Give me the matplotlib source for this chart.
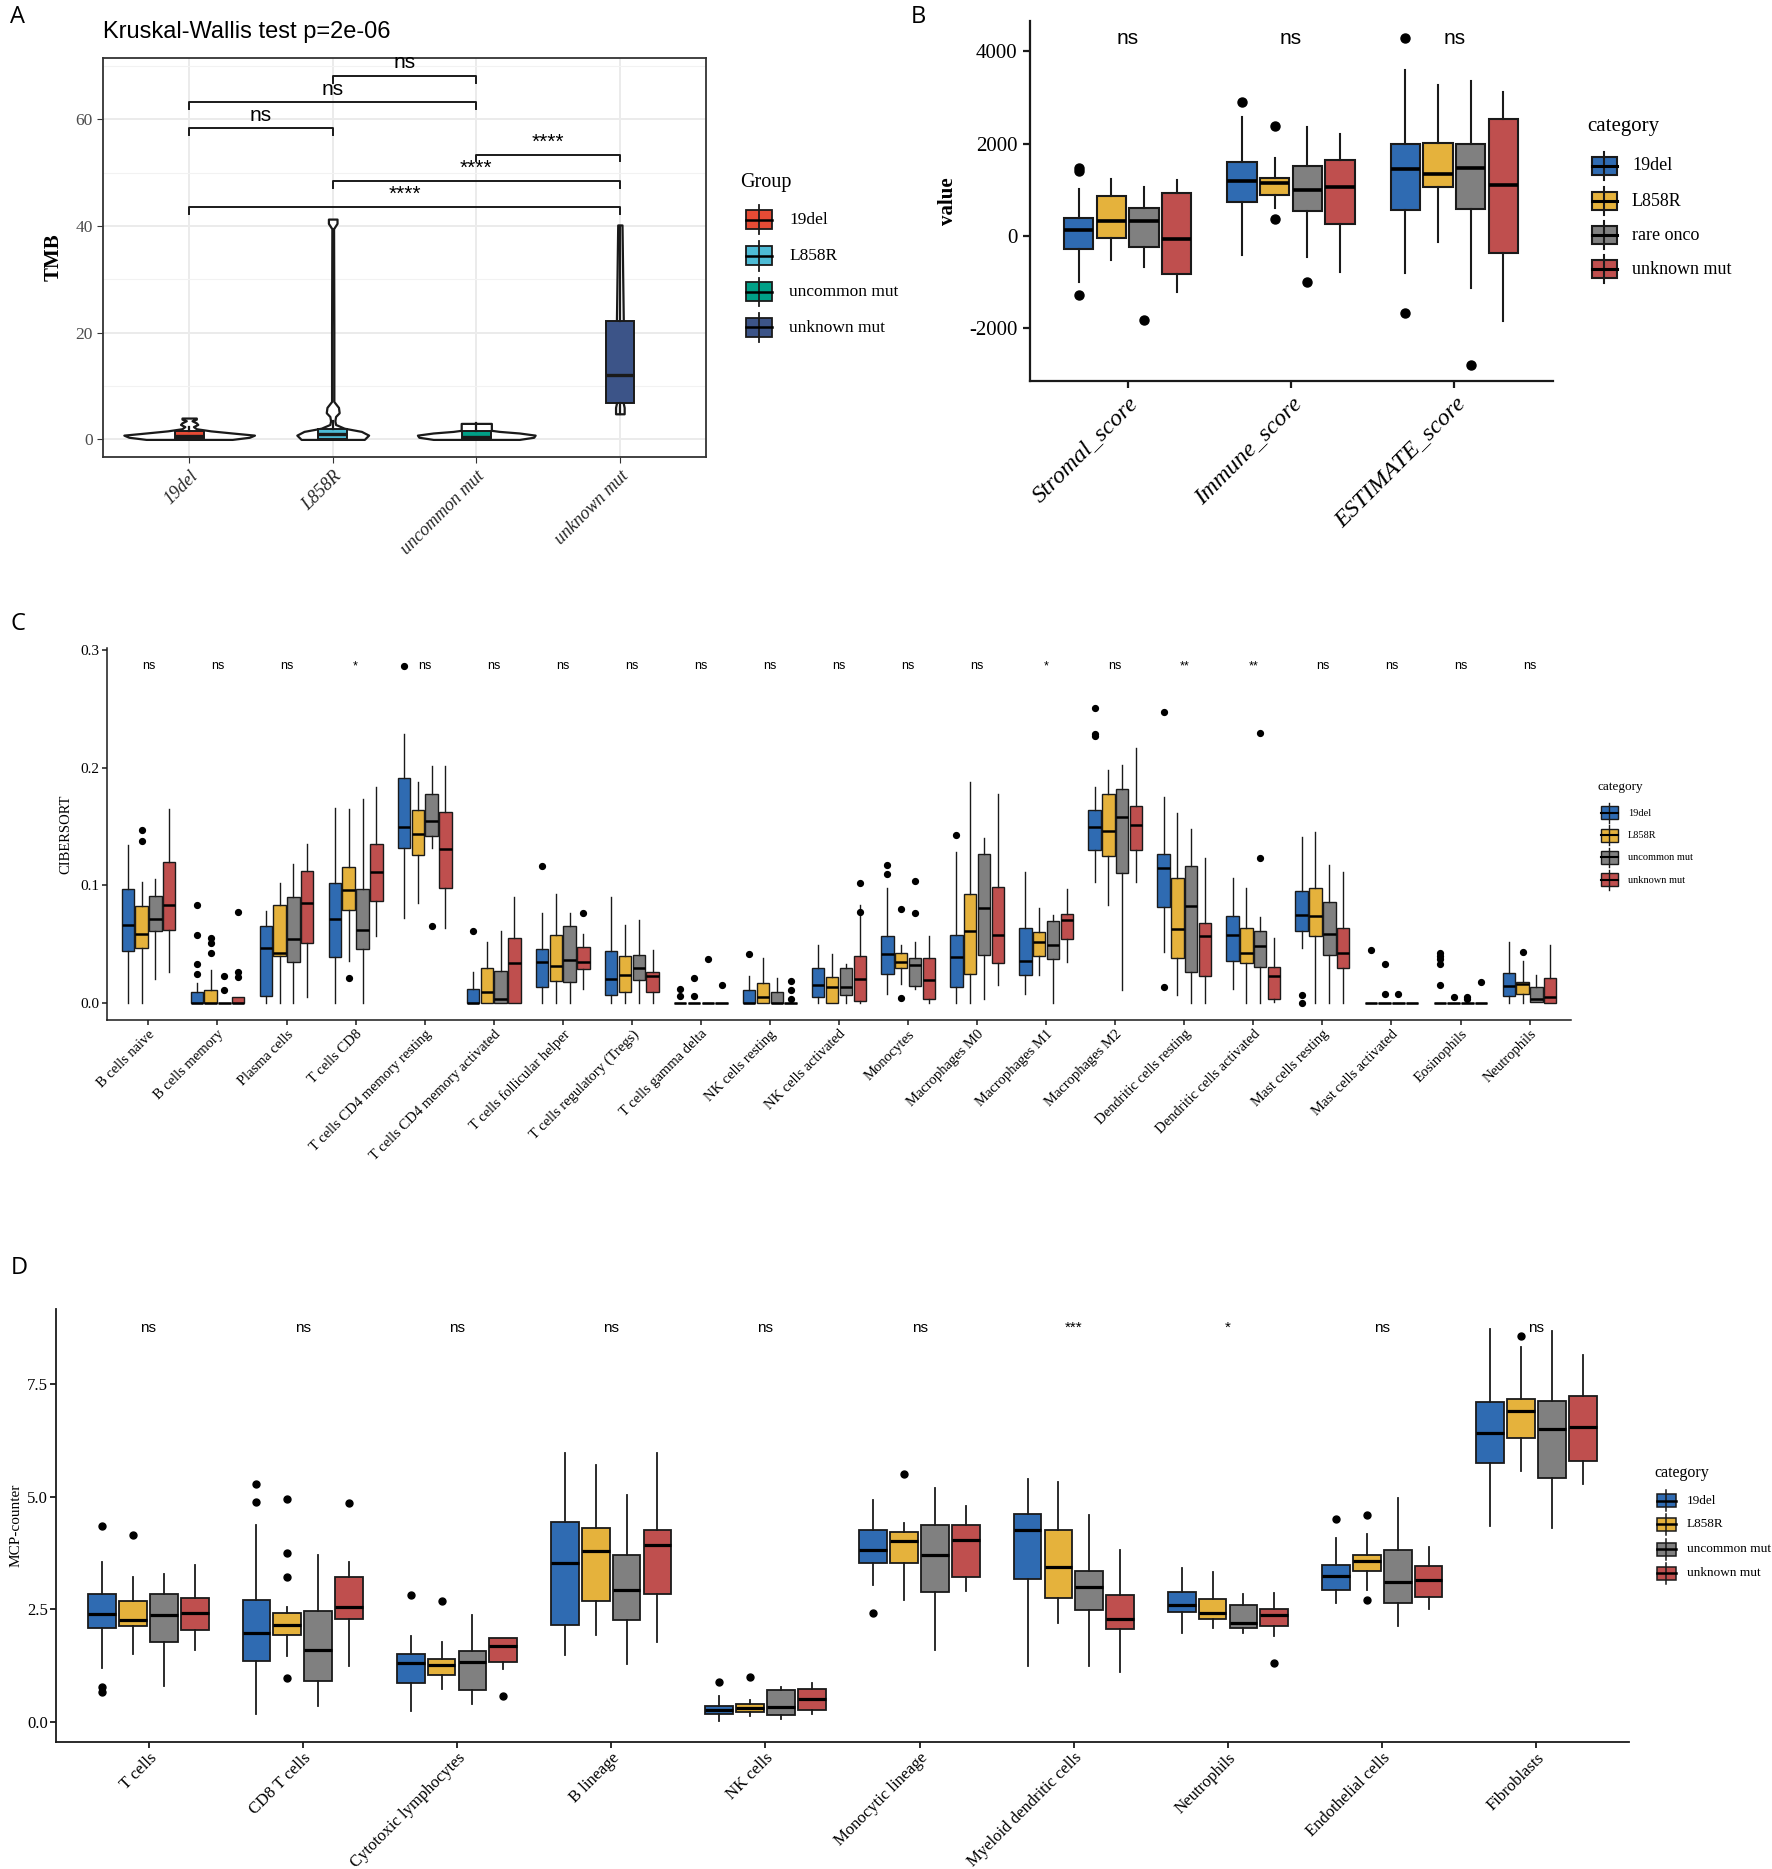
import numpy as np
import matplotlib
matplotlib.use("Agg")
import matplotlib.pyplot as plt
from matplotlib.patches import Rectangle
from matplotlib.lines import Line2D

W, H = 1772, 1869
SERIF = ['Liberation Serif', 'DejaVu Serif']
SANS = ['Liberation Sans', 'DejaVu Sans']
plt.rcParams['font.family'] = SERIF
plt.rcParams['axes.unicode_minus'] = False

# ---------------- data ----------------
# Panel A: TMB by group (violin profiles + box stats)
a_groups = ['19del', 'L858R', 'uncommon mut', 'unknown mut']
a_colors = ['#E64B35', '#4DBBD5', '#00A087', '#3C5488']
vio_19del_y = [0, 0.4, 0.8, 1.2, 1.6, 2.0, 2.4, 2.8, 3.1, 3.5, 3.8, 4.0]
vio_19del_w = [0.3, 0.42, 0.455, 0.3, 0.15, 0.05, 0.03, 0.06, 0.05, 0.02, 0.05, 0.05]
vio_L858R_y = [0, 0.8, 1.5, 2.1, 2.8, 3.5, 4.3, 5.0, 6.0, 7.1, 20, 39.5, 40.5, 41.3]
vio_L858R_w = [0.22, 0.25, 0.2, 0.08, 0.02, 0.015, 0.02, 0.045, 0.04, 0.008, 0.008, 0.006, 0.03, 0.03]
vio_unc_y = [0, 0.4, 0.8, 1.2, 1.5, 1.7, 3.0]
vio_unc_w = [0.3, 0.4, 0.41, 0.3, 0.16, 0.105, 0.105]
vio_unk_y = [4.8, 6.0, 7.0, 12, 20, 30, 40.2]
vio_unk_w = [0.03, 0.03, 0.022, 0.022, 0.025, 0.02, 0.015]
a_box = [(0, 0.15, 0.6, 1.5, 2.3), (0, 0.15, 1.0, 2.0, 3.5),
         (0, 0.1, 0.5, 1.5, 3.0), (4.8, 6.9, 12.06, 22.25, 40.0)]
a_comp = [(1, 2, 58.4, 'ns'), (1, 3, 63.2, 'ns'), (2, 3, 68.2, 'ns'),
          (3, 4, 53.4, '****'), (2, 4, 48.4, '****'), (1, 4, 43.5, '****')]

# Panel B: ESTIMATE scores
b_cats = ['Stromal_score', 'Immune_score', 'ESTIMATE_score']
b_groups = ['19del', 'L858R', 'rare onco', 'unknown mut']
b_sig = ['ns', 'ns', 'ns']
b_19del = [(-1000, -285, 130, 385, 1023), (-408, 731, 1192, 1592, 2577), (-808, 554, 1446, 2000, 3592)]
b_19del_out = [[1400, 1480, -1270], [2900], [4292, -1677]]
b_L858R = [(-515, -38, 323, 862, 1230), (600, 885, 1138, 1254, 1692), (-138, 1062, 1346, 2023, 3269)]
b_L858R_out = [[], [2385, 370], []]
b_rare = [(-677, -230, 323, 615, 1054), (-446, 538, 1000, 1515, 2370), (-1115, 577, 1462, 2000, 3346)]
b_rare_out = [[-1808], [-985], [-2785]]
b_unk = [(-1215, -823, -62, 923, 1208), (-769, 254, 1054, 1654, 2208), (-1846, -362, 1115, 2538, 3115)]
b_unk_out = [[], [], []]

# Panel C: CIBERSORT
c_cats = ['B cells naive', 'B cells memory', 'Plasma cells', 'T cells CD8',
          'T cells CD4 memory resting', 'T cells CD4 memory activated',
          'T cells follicular helper', 'T cells regulatory (Tregs)', 'T cells gamma delta',
          'NK cells resting', 'NK cells activated', 'Monocytes', 'Macrophages M0',
          'Macrophages M1', 'Macrophages M2', 'Dendritic cells resting',
          'Dendritic cells activated', 'Mast cells resting', 'Mast cells activated',
          'Eosinophils', 'Neutrophils']
cd_groups = ['19del', 'L858R', 'uncommon mut', 'unknown mut']
c_sig = ['ns', 'ns', 'ns', '*', 'ns', 'ns', 'ns', 'ns', 'ns', 'ns', 'ns', 'ns', 'ns', '*',
         'ns', '**', '**', 'ns', 'ns', 'ns', 'ns']
c_19del = [(0, 0.0438, 0.066, 0.097, 0.134), (0, 0, 0, 0.009, 0.017), (0, 0.006, 0.047, 0.065, 0.078),
           (0, 0.039, 0.071, 0.102, 0.166), (0.072, 0.132, 0.1495, 0.1915, 0.229), (0, 0, 0, 0.012, 0.026),
           (0, 0.0137, 0.035, 0.046, 0.0766), (0, 0.0067, 0.020, 0.044, 0.09), (0, 0, 0, 0, 0),
           (0, 0, 0, 0.0106, 0.023), (0, 0.005, 0.015, 0.030, 0.049), (0.008, 0.025, 0.0416, 0.057, 0.098),
           (0, 0.0137, 0.039, 0.0578, 0.128), (0.0076, 0.024, 0.0356, 0.0635, 0.1115),
           (0.1024, 0.130, 0.1495, 0.164, 0.1836), (0.0432, 0.0818, 0.1146, 0.1267, 0.175),
           (0.012, 0.0356, 0.0574, 0.0736, 0.1064), (0.0468, 0.0608, 0.075, 0.0954, 0.141),
           (0, 0, 0, 0, 0), (0, 0, 0, 0, 0), (0, 0.0058, 0.0143, 0.0255, 0.052)]
c_19del_out = [[], [0.0836, 0.058, 0.033, 0.025], [], [], [0.286], [0.061], [0.116], [], [0.012, 0.006],
               [0.0416], [], [0.117, 0.11], [0.143], [], [0.251, 0.229, 0.227], [0.247, 0.0137], [],
               [0.0067, 0.0], [0.0447], [0.0425, 0.040, 0.037, 0.0334, 0.015], []]
c_L858R = [(0, 0.047, 0.059, 0.0827, 0.103), (0, 0, 0, 0.011, 0.028), (0, 0.0395, 0.0425, 0.0836, 0.102),
           (0.0356, 0.0787, 0.096, 0.1155, 0.165), (0.085, 0.126, 0.144, 0.164, 0.188), (0, 0, 0.0097, 0.03, 0.052),
           (0, 0.019, 0.031, 0.058, 0.093), (0, 0.0097, 0.024, 0.040, 0.066), (0, 0, 0, 0, 0),
           (0, 0, 0.005, 0.017, 0.038), (0, 0, 0.0137, 0.022, 0.0416), (0.016, 0.030, 0.035, 0.0425, 0.049),
           (0, 0.025, 0.0614, 0.0927, 0.1875), (0.0234, 0.0395, 0.0517, 0.06, 0.081),
           (0.0836, 0.1246, 0.1465, 0.178, 0.1976), (0.0067, 0.0386, 0.063, 0.1064, 0.1617),
           (0, 0.034, 0.0422, 0.0638, 0.0973), (0, 0.057, 0.0736, 0.098, 0.145),
           (0, 0, 0, 0, 0), (0, 0, 0, 0, 0), (0, 0.0076, 0.0158, 0.018, 0.0356)]
c_L858R_out = [[0.147, 0.138], [0.055, 0.051, 0.0425], [], [0.021], [], [], [], [], [0.021, 0.006], [], [],
               [0.08, 0.0045], [], [], [], [], [], [], [0.0334, 0.0076], [0.005], [0.043]]
c_unc = [(0.02, 0.061, 0.071, 0.091, 0.105), (0, 0, 0, 0, 0), (0, 0.0347, 0.054, 0.0897, 0.118),
         (0, 0.046, 0.062, 0.097, 0.173), (0.132, 0.142, 0.155, 0.178, 0.201), (0, 0, 0.003, 0.027, 0.061),
         (0, 0.018, 0.0365, 0.065, 0.0766), (0, 0.0195, 0.0295, 0.041, 0.0705), (0, 0, 0, 0, 0),
         (0, 0, 0, 0.0097, 0.021), (0, 0.007, 0.0137, 0.030, 0.033), (0.012, 0.0143, 0.032, 0.0386, 0.052),
         (0.0036, 0.041, 0.081, 0.1267, 0.14), (0, 0.037, 0.049, 0.070, 0.075),
         (0.0106, 0.1106, 0.158, 0.1815, 0.202), (0, 0.026, 0.082, 0.116, 0.148),
         (0, 0.0304, 0.048, 0.0614, 0.073), (0, 0.0407, 0.059, 0.0857, 0.1176),
         (0, 0, 0, 0, 0), (0, 0, 0, 0, 0), (0.001, 0.0012, 0.0036, 0.0137, 0.0234)]
c_unc_out = [[], [0.023, 0.011], [], [], [0.065], [], [], [], [0.0377], [], [], [0.104, 0.0766], [], [], [],
             [], [0.2295, 0.1228], [], [0.0076], [0.005, 0.003], []]
c_unk = [(0.026, 0.062, 0.0836, 0.12, 0.165), (0, 0, 0, 0.005, 0.005), (0.005, 0.051, 0.085, 0.1125, 0.135),
         (0.057, 0.0866, 0.111, 0.135, 0.1836), (0.064, 0.098, 0.131, 0.162, 0.201), (0, 0, 0.034, 0.055, 0.0897),
         (0.012, 0.029, 0.035, 0.0477, 0.059), (0, 0.0097, 0.0228, 0.0264, 0.045), (0, 0, 0, 0, 0),
         (0, 0, 0, 0, 0), (0, 0.002, 0.020, 0.0395, 0.083), (0, 0.003, 0.0198, 0.038, 0.057),
         (0.015, 0.034, 0.058, 0.0988, 0.178), (0.0347, 0.0547, 0.0705, 0.076, 0.097),
         (0.1024, 0.130, 0.151, 0.167, 0.2164), (0, 0.0225, 0.057, 0.068, 0.1228),
         (0.0006, 0.003, 0.0225, 0.0304, 0.055), (0, 0.030, 0.0425, 0.0638, 0.1115),
         (0, 0, 0, 0, 0), (0, 0, 0, 0, 0), (0, 0, 0.005, 0.021, 0.049)]
c_unk_out = [[], [0.0775, 0.026, 0.022], [], [], [], [], [0.0766], [], [0.015], [0.019, 0.0106, 0.0036],
             [0.102, 0.0775], [], [], [], [], [], [], [], [], [0.018], []]

# Panel D: MCP-counter
d_cats = ['T cells', 'CD8 T cells', 'Cytotoxic lymphocytes', 'B lineage', 'NK cells',
          'Monocytic lineage', 'Myeloid dendritic cells', 'Neutrophils', 'Endothelial cells', 'Fibroblasts']
d_sig = ['ns', 'ns', 'ns', 'ns', 'ns', 'ns', '***', '*', 'ns', 'ns']
d_19del = [(1.2, 2.088, 2.395, 2.833, 3.553), (0.175, 1.36, 1.974, 2.719, 4.368), (0.237, 0.86, 1.316, 1.518, 1.904),
           (1.491, 2.149, 3.526, 4.447, 5.965), (0.026, 0.175, 0.28, 0.368, 0.57), (3.044, 3.535, 3.816, 4.254, 4.93),
           (1.246, 3.175, 4.254, 4.623, 5.395), (1.974, 2.439, 2.605, 2.877, 3.42), (2.649, 2.939, 3.246, 3.491, 4.079),
           (4.342, 5.746, 6.421, 7.105, 8.728)]
d_19del_out = [[4.36, 0.79, 0.675], [5.29, 4.886], [2.825], [], [0.895], [2.412], [], [], [4.5], []]
d_L858R = [(1.518, 2.123, 2.263, 2.693, 3.228), (1.465, 1.93, 2.149, 2.43, 2.544), (0.728, 1.035, 1.272, 1.404, 1.781),
           (1.93, 2.693, 3.789, 4.316, 5.7), (0.13, 0.219, 0.307, 0.395, 0.482), (2.719, 3.535, 4.009, 4.228, 4.43),
           (2.211, 2.763, 3.439, 4.272, 5.333), (2.088, 2.298, 2.412, 2.737, 3.333), (2.939, 3.36, 3.579, 3.71, 4.167),
           (5.57, 6.298, 6.904, 7.175, 8.316)]
d_L858R_out = [[4.149], [4.956, 3.754, 3.219, 0.982], [2.693], [], [0.991], [5.509], [], [], [4.588, 2.719], [8.57]]
d_unc = [(0.807, 1.781, 2.368, 2.851, 3.289), (0.351, 0.9035, 1.596, 2.456, 3.702), (0.412, 0.702, 1.342, 1.579, 2.368),
         (1.298, 2.263, 2.939, 3.702, 5.044), (0.061, 0.158, 0.333, 0.702, 0.789), (1.596, 2.895, 3.702, 4.386, 5.193),
         (1.254, 2.482, 3.0, 3.36, 4.605), (1.974, 2.088, 2.211, 2.605, 2.833), (2.123, 2.649, 3.114, 3.816, 4.982),
         (4.298, 5.421, 6.509, 7.123, 8.684)]
d_unc_out = [[], [], [], [], [], [], [], [], [], []]
d_unk = [(1.605, 2.044, 2.412, 2.746, 3.482), (1.254, 2.281, 2.544, 3.219, 3.553), (1.184, 1.342, 1.684, 1.868, 1.868),
         (1.781, 2.833, 3.93, 4.254, 5.982), (0.175, 0.28, 0.509, 0.728, 0.86), (2.921, 3.228, 4.035, 4.386, 4.807),
         (1.123, 2.061, 2.281, 2.825, 3.816), (1.904, 2.123, 2.386, 2.518, 2.868), (2.5, 2.781, 3.158, 3.465, 3.886),
         (5.289, 5.79, 6.553, 7.237, 8.158)]
d_unk_out = [[], [4.868], [0.57], [], [], [], [], [1.316], [], []]

pal = ['#2F6BB2', '#E5B23C', '#808080', '#BF4F4E']
offsets = [-0.3, -0.1, 0.1, 0.3]

fig = plt.figure(figsize=(W / 100, H / 100), dpi=100)


def fx(x):
    return x / W


def fy(y):
    return 1 - y / H


def draw_boxes(ax, stats_list, out_list, lw, mlw, ms, width=0.18):
    for stats, outs, col, off in zip(stats_list, out_list, pal, offsets):
        bs = [dict(whislo=s[0], q1=s[1], med=s[2], q3=s[3], whishi=s[4], fliers=f)
              for s, f in zip(stats, outs)]
        pos = np.arange(1, len(stats) + 1) + off
        ax.bxp(bs, positions=pos, widths=width, patch_artist=True, showcaps=False, manage_ticks=False,
               boxprops=dict(facecolor=col, edgecolor='#1a1a1a', linewidth=lw),
               medianprops=dict(color='black', linewidth=mlw, solid_capstyle='butt'),
               whiskerprops=dict(color='#1a1a1a', linewidth=lw),
               flierprops=dict(marker='o', markerfacecolor='black', markeredgecolor='black', markersize=ms))


def legend(x_title, y_title, title, tsize, keys_x, keys_y, labels, lsize, label_x, colors, kw, kh, lw, mlw, wl):
    fig.text(fx(x_title), fy(y_title), title, fontsize=tsize, va='center', ha='left')
    for yk, lab, col in zip(keys_y, labels, colors):
        fig.add_artist(Line2D([fx(keys_x)] * 2, [fy(yk - kh / 2 - wl), fy(yk + kh / 2 + wl)],
                              color='#1a1a1a', lw=lw))
        fig.add_artist(Rectangle((fx(keys_x - kw / 2), fy(yk + kh / 2)), kw / W, kh / H,
                                 facecolor=col, edgecolor='#1a1a1a', lw=lw))
        fig.add_artist(Line2D([fx(keys_x - kw / 2), fx(keys_x + kw / 2)], [fy(yk)] * 2, color='black', lw=mlw))
        fig.text(fx(label_x), fy(yk), lab, fontsize=lsize, va='center', ha='left')


def classic(ax, lw, tl):
    for s in ['top', 'right']:
        ax.spines[s].set_visible(False)
    for s in ['left', 'bottom']:
        ax.spines[s].set_linewidth(lw)
        ax.spines[s].set_color('#1a1a1a')
    ax.tick_params(length=tl, width=lw, color='#1a1a1a')


# ---------------- panel A ----------------
axA = fig.add_axes([fx(103), fy(457), 603 / W, 399 / H])
axA.set_xlim(0.4, 4.6)
axA.set_ylim(-3.3, 71.5)
axA.set_yticks([0, 20, 40, 60])
axA.set_yticks([10, 30, 50, 70], minor=True)
axA.set_xticks([1, 2, 3, 4])
axA.grid(True, which='major', color='#EBEBEB', lw=1.4)
axA.grid(True, which='minor', axis='y', color='#F2F2F2', lw=0.8)
axA.set_axisbelow(True)
for s in axA.spines.values():
    s.set_color('#333333')
    s.set_linewidth(1.3)
axA.tick_params(which='major', length=4, color='#333333', labelcolor='#4D4D4D', labelsize=12.5)
axA.tick_params(which='minor', length=0)
axA.set_xticklabels(a_groups, rotation=45, ha='right', va='top', rotation_mode='anchor',
                    fontstyle='italic', fontsize=13, color='#262626')
axA.set_ylabel('TMB', fontsize=15, fontweight='bold', labelpad=8)

vio = [(vio_19del_y, vio_19del_w), (vio_L858R_y, vio_L858R_w), (vio_unc_y, vio_unc_w), (vio_unk_y, vio_unk_w)]
for i, (vy, vw) in enumerate(vio):
    vy = np.array(vy)
    vw = np.array(vw)
    axA.fill_betweenx(vy, i + 1 - vw, i + 1 + vw, facecolor='white', edgecolor='#1a1a1a', lw=1.6, zorder=2)
for i, (s, col) in enumerate(zip(a_box, a_colors)):
    axA.bxp([dict(whislo=s[0], q1=s[1], med=s[2], q3=s[3], whishi=s[4], fliers=[])], positions=[i + 1],
            widths=0.2, patch_artist=True, showcaps=False, manage_ticks=False,
            boxprops=dict(facecolor=col, edgecolor='#1a1a1a', linewidth=1.4),
            medianprops=dict(color='#1a1a1a', linewidth=2.4),
            whiskerprops=dict(color='#1a1a1a', linewidth=1.6), zorder=3)
for x1, x2, yb, lab in a_comp:
    axA.plot([x1, x1, x2, x2], [yb - 1.3, yb, yb, yb - 1.3], color='#1a1a1a', lw=1.4, clip_on=False)
    axA.text((x1 + x2) / 2, yb + 0.6, lab, ha='center', va='bottom', fontsize=15, family=SANS, clip_on=False)
fig.text(fx(103), fy(32), 'Kruskal-Wallis test p=2e-06', fontsize=17, family=SANS, va='center', ha='left')
legend(740, 182, 'Group', 14.5, 759, [220, 256, 292, 327.5], a_groups, 12.5, 789, a_colors, 26, 19, 1.3, 1.8, 5)

# ---------------- panel B ----------------
axB = fig.add_axes([fx(1029.5), fy(381), 523 / W, 359.6 / H])
axB.set_xlim(0.4, 3.6)
axB.set_ylim(-3139, 4646)
classic(axB, 1.6, 5)
axB.set_yticks([-2000, 0, 2000, 4000])
axB.set_xticks([1, 2, 3])
axB.tick_params(labelsize=15)
axB.set_xticklabels(b_cats, rotation=45, ha='right', va='top', rotation_mode='anchor',
                    fontstyle='italic', fontsize=17.5)
axB.set_ylabel('value', fontsize=15, fontweight='bold', labelpad=8)
draw_boxes(axB, [b_19del, b_L858R, b_rare, b_unk], [b_19del_out, b_L858R_out, b_rare_out, b_unk_out],
           lw=1.5, mlw=2.6, ms=6.5)
for i, lab in enumerate(b_sig):
    axB.text(i + 1, 4269, lab, ha='center', va='center', fontsize=15, family=SANS)
legend(1587, 127, 'category', 15, 1604, [166, 201, 235, 269], b_groups, 13, 1632, pal, 25, 18, 1.5, 2.2, 5)

# ---------------- panel C ----------------
axC = fig.add_axes([fx(107), fy(1020), 1464 / W, 372 / H])
axC.set_xlim(0.4, 21.6)
axC.set_ylim(-0.0145, 0.3017)
classic(axC, 1.1, 3.5)
axC.set_yticks([0, 0.1, 0.2, 0.3])
axC.set_yticklabels(['0.0', '0.1', '0.2', '0.3'])
axC.set_xticks(np.arange(1, len(c_cats) + 1))
axC.tick_params(labelsize=11, pad=2)
axC.set_xticklabels(c_cats, rotation=45, ha='right', va='top', rotation_mode='anchor', fontsize=10.5)
axC.set_ylabel('CIBERSORT', fontsize=10.5, labelpad=6)
draw_boxes(axC, [c_19del, c_L858R, c_unc, c_unk], [c_19del_out, c_L858R_out, c_unc_out, c_unk_out],
           lw=1.0, mlw=1.8, ms=4.2)
for i, lab in enumerate(c_sig):
    axC.text(i + 1, 0.286, lab, ha='center', va='center', fontsize=9, family=SANS)
legend(1598, 787, 'category', 9.5, 1609, [813, 835, 857.5, 880], cd_groups, 7.5, 1628, pal, 17, 13, 1.0, 1.5, 3)

# ---------------- panel D ----------------
axD = fig.add_axes([fx(56), fy(1741.5), 1573 / W, 433 / H])
axD.set_xlim(0.4, 10.6)
axD.set_ylim(-0.43, 9.18)
classic(axD, 1.3, 4)
axD.set_yticks([0, 2.5, 5, 7.5])
axD.set_yticklabels(['0.0', '2.5', '5.0', '7.5'])
axD.set_xticks(np.arange(1, len(d_cats) + 1))
axD.tick_params(labelsize=12, pad=2)
axD.set_xticklabels(d_cats, rotation=45, ha='right', va='top', rotation_mode='anchor', fontsize=12)
axD.set_ylabel('MCP-counter', fontsize=11, labelpad=3)
draw_boxes(axD, [d_19del, d_L858R, d_unc, d_unk], [d_19del_out, d_L858R_out, d_unc_out, d_unk_out],
           lw=1.3, mlw=2.3, ms=5)
for i, lab in enumerate(d_sig):
    axD.text(i + 1, 8.75, lab, ha='center', va='center', fontsize=11, family=SANS)
legend(1654, 1473, 'category', 11.5, 1666, [1500.7, 1524, 1549, 1573], cd_groups, 9.5, 1687, pal, 19, 13, 1.1, 1.8, 4)

# panel letters
for lab, x, y in [('A', 10, 17), ('B', 911, 17), ('C', 11, 624), ('D', 11, 1268)]:
    fig.text(fx(x), fy(y), lab, fontsize=17, family=['Open Sans', 'DejaVu Sans'], va='center', ha='left')

fig.savefig('out.png', dpi=100)
